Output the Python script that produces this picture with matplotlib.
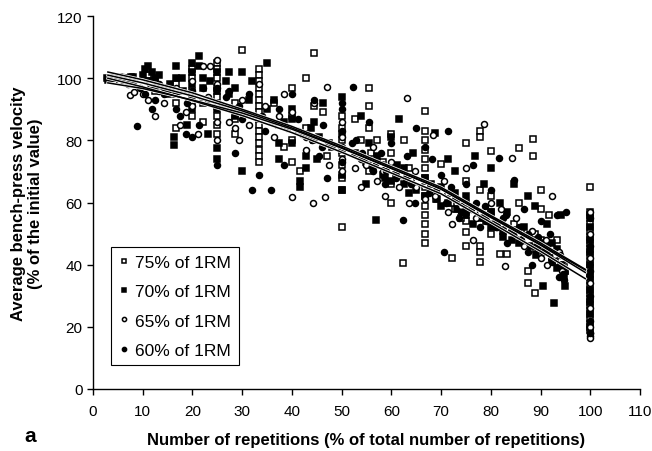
import matplotlib
matplotlib.use('Agg')
import matplotlib.pyplot as plt
import numpy as np

plt.rcParams['font.family'] = ['Liberation Sans', 'DejaVu Sans']

# 75% of 1RM (open squares)
x75 = [3.4, 4.5, 5.9, 7.7, 11.1, 12.5, 12.5, 14.3, 16.7, 16.7, 16.7,
       20, 20, 20, 20, 20, 22.2, 22.2,
       25, 25, 25, 25, 25, 25, 25, 25, 25, 28.6, 28.6, 28.6, 30,
       33.3, 33.3, 33.3, 33.3, 33.3, 33.3, 33.3, 33.3, 33.3, 33.3, 33.3, 33.3, 33.3, 33.3, 33.3, 33.3,
       36.4, 37.5, 38.5, 40, 40, 40, 40, 42.9, 42.9, 41.7, 44.4, 44.4, 44.4, 46.2, 47.1,
       50, 50, 50, 50, 50, 50, 50, 50,
       52.6, 53.8, 55.6, 55.6, 55.6, 55.6, 57.1, 58.3, 60, 60, 60, 60, 62.5, 62.3, 63.6,
       66.7, 66.7, 66.7, 66.7, 66.7, 66.7, 66.7, 66.7, 66.7, 66.7, 66.7, 66.7, 66.7, 66.7,
       70, 71.4, 72.2, 72.7, 75, 75, 75, 75, 75, 75,
       77.8, 77.8, 77.8, 77.8, 77.8, 77.8, 80, 80, 80, 80,
       81.8, 83.3, 84.6, 85.7, 85.7, 87.5, 87.5, 88.5, 88.5, 88.9, 88.9, 90, 90, 90,
       91.7, 92.3, 93.3, 94.7,
       56, 58, 61, 64, 69, 72, 74, 79, 82, 86, 89, 91, 93, 95,
       100, 100, 100, 100, 100, 100, 100, 100, 100, 100, 100, 100, 100, 100, 100, 100, 100, 100, 100, 100, 100]
y75 = [100, 100, 100, 100.5, 101, 99, 96, 97, 84, 92, 98,
       103, 100, 96, 92, 88, 92, 86,
       105, 103, 100, 97, 94, 91, 88, 85, 82, 92, 87, 82, 109,
       103, 101, 99, 97, 95, 93, 91, 89, 87, 85, 83, 81, 79, 77, 75, 73,
       92, 85, 78, 97, 88, 80, 73, 100, 84, 70, 108, 91, 80, 89, 75,
       88, 84, 80, 76, 72, 68, 64, 52,
       87, 80, 97, 91, 84, 70, 80, 73, 82, 76, 66, 60, 80, 40.5, 71,
       89.5, 83, 80, 77, 74, 71, 68, 65, 62, 59, 56, 53, 50, 47,
       72.5, 63, 42, 58, 79, 67, 60, 54, 50.5, 46,
       83, 81, 64, 46, 44, 41, 76.5, 62, 57, 50,
       43.5, 43.5, 53, 77.5, 60, 38, 34, 80.5, 75, 50, 31, 64, 58, 48,
       56, 42, 48, 40,
       76, 72, 69, 67, 61, 60, 55, 54, 53, 51, 45, 45, 41, 38,
       65, 57, 55, 53, 51, 49, 47, 45, 43, 41, 39, 37, 35, 33, 31, 29, 27, 25, 23, 21, 19]

# 70% of 1RM (filled squares)
x70 = [2.9, 3.6, 4.3, 5, 5.6, 6.3, 7.1, 8, 10, 10.5, 11, 11.8, 12.5, 12.5,
       14.3, 15.4, 16.2, 16.2, 16.7, 16.7, 16.7, 18.2, 19, 20, 20, 20, 20, 20,
       21.4, 21.4, 22.2, 23.1, 25, 25, 25, 25, 25, 27.3, 27.3, 28.6, 30, 30,
       35, 35, 36.4, 37.5, 37.5, 40, 40, 41.7, 41.7, 42.9, 42.9, 44.4, 45, 46.2, 47.4,
       50, 50, 50, 50, 50, 52.6, 53.8, 55, 55.6, 57, 57.1, 58.3,
       60, 61.5, 62.5, 63.6, 64.3, 66.7, 68.8, 70, 70, 71.4, 72.7,
       75, 75, 76.9, 77.8, 78.6, 80, 80, 81.8, 82.4, 83.3, 84.6, 85.7,
       87.5, 88.9, 89.5, 90.5, 91.3, 92.3, 92.8, 93.3, 94.1, 94.7, 95,
       55, 56.3, 58.8, 60, 61.1, 62.5, 65, 66.7, 68, 69.2, 71.4, 72.7, 73.3, 75,
       76.5, 78.6, 80, 81.3, 82.4, 84.2, 85, 86.7, 88, 89, 90, 91.3, 92.3, 93.3,
       94.4, 95, 3.1, 4.6, 5.3, 6.7, 7.5, 11, 13.3, 15, 18, 22.2, 23.5, 26.7,
       28.6, 31.3, 32, 38.5, 40, 43.8, 45.5, 48,
       100, 100, 100, 100, 100, 100, 100, 100, 100, 100]
y70 = [100, 100, 100.5, 100, 99.5, 100, 100, 100.5, 101, 103, 104, 102, 100, 97,
       97, 98, 78.5, 81, 104, 100, 95, 96, 85, 105, 102, 98, 94, 90,
       107, 104, 97, 82, 102, 96, 90, 77.5, 74, 102, 95, 88, 102, 70,
       105, 90, 93, 79, 74, 87, 79, 65, 67, 75, 71, 86, 74, 92, 79,
       94, 82, 77, 69, 64, 76, 88, 66, 79, 54.4, 75, 69,
       81, 87, 71, 63, 76, 68, 82.5, 65, 59, 74, 70,
       57, 62, 75, 55, 66, 71, 52, 60, 49, 57, 66, 47,
       62, 59, 45, 33, 53, 47, 27.6, 39, 56, 36, 33,
       73, 71, 68, 67, 72, 66, 64, 62, 66, 61, 60, 63, 58, 56,
       53, 55, 57, 53, 51, 48, 50, 52, 46, 43, 47, 44, 42, 45,
       40, 38, 99.5, 100, 100.5, 99.5, 100, 99, 101, 95, 100, 100, 99, 99,
       97, 93, 99, 86, 90, 84, 81, 78,
       56, 52, 48, 44, 40, 36, 32, 28, 24, 20]

# 65% of 1RM (open circles)
x65 = [4, 5.3, 6.7, 7.5, 8.3, 10, 11.1, 11.5, 12.5, 13.3, 14.3,
       16.7, 17.6, 18.8, 20, 20, 21.1, 22.2, 23.1, 23.5, 25, 25, 25, 25, 25,
       27.3, 28.6, 29.4, 30, 31.3, 33.3, 34.6, 36.4, 37.5, 38.5,
       40, 40, 41.2, 42.9, 44.3, 44.4, 46.6, 47, 47.4,
       50, 50, 50, 50, 50, 52.6, 53.8, 55, 56.3, 57.1, 58.8,
       60, 61.5, 63.1, 63.6, 64.7, 66.7, 68.3,
       70.6, 72.2, 73.3, 75, 76.5, 77.8, 78.7,
       80, 81.3, 82.8, 84.2, 85, 86.7, 88.2, 90, 91.3, 92.3, 93.8, 94.4,
       55.6, 58.3, 62, 65, 68.8, 71.4, 74, 77, 80, 82, 85.7, 88.9, 91, 93,
       100, 100, 100, 100, 100, 100, 100, 100, 100]
y65 = [100, 99, 100, 94.5, 95.5, 95, 93, 98, 88, 96, 92,
       97, 85, 89, 99, 91, 82, 104, 94, 104, 106, 98, 92, 86, 80,
       86, 84, 80, 93, 85, 98, 91, 81, 88, 95,
       89, 61.8, 83, 77, 60, 92, 61.8, 97.3, 72,
       86, 81, 78, 74, 70, 71, 65, 72, 78, 67, 62,
       73, 65, 93.7, 60, 70, 61, 81.7,
       67, 53, 61, 71, 48, 57, 85.4,
       60, 52, 39.6, 74.3, 55, 46, 51, 42, 40, 62, 44, 38,
       74, 70, 69, 65, 62, 57, 59, 55, 55, 58, 50, 47, 48, 43,
       57, 50, 42, 34, 26, 20, 18, 17, 16.5]

# 60% of 1RM (filled circles)
x60 = [3.3, 4.8, 6, 7, 8.9, 9.5, 10.5, 11.8, 12.5, 13.3, 14.3, 15.4, 16.7, 17.6,
       18.8, 19, 20, 20, 21.4, 22.2, 23.1, 25, 25, 26.7, 27.3, 28.6, 29.4, 30, 31.3,
       32, 33.3, 34.6, 35.7, 37.5, 38.5, 40, 41.2, 42.9, 44.4, 45.5, 46.2, 47.1,
       50, 50, 50, 50, 52.3, 52.9, 53.8, 55.6, 56.3, 57.9, 58.8,
       60, 61.1, 62.3, 63.2, 64.7, 65, 66.7, 68.2, 70, 70.5, 71.3, 72.7, 73.7,
       75, 76.5, 77.8, 78.9, 80, 81.6, 82.4, 83.3, 84.7, 85.7, 86.7, 87.5, 88.2,
       89.5, 90, 91.3, 92.3, 93.3, 93.8, 94.7, 95.2,
       52, 54, 57, 59, 61, 63, 64, 67.5, 69, 71, 72, 74, 76, 77, 79, 81, 83, 84,
       86, 87.5, 89, 90.5, 92, 94, 94.5, 2.8, 5.5, 8.3, 26, 29, 34, 36, 39, 42, 44, 46,
       100, 100, 100, 100, 100, 100]
y60 = [100, 100, 100.5, 98, 84.7, 97, 95, 90, 93, 98, 95, 97, 90, 88,
       82, 92, 96, 81, 85, 97, 93, 72, 97, 94, 96, 76, 91, 87, 95,
       64, 69, 83, 64, 90, 72, 95, 87, 81, 93, 75, 85, 68,
       92, 90, 83, 73, 97.3, 80, 74, 86, 70, 76, 66,
       79, 70, 54.4, 75, 60, 84, 78, 74, 69, 44.1, 83, 61, 55,
       66, 72, 52, 59, 64, 74.3, 55, 47, 67.2, 52, 58, 44, 40,
       49, 54, 46, 41, 56, 36, 35, 57,
       79, 76, 73, 70, 68, 68, 66, 63, 64, 60, 65, 57, 58, 60, 54, 52, 56, 51,
       48, 50, 46, 44, 50, 43, 37, 100, 100, 99.5, 91, 90, 88, 86, 84, 82, 80, 78,
       55, 46, 38, 30, 22, 18]

# regression curves
fit_x = [3, 10, 20, 30, 40, 50, 60, 70, 80, 90, 99]
fit75 = [102, 99.5, 95.3, 90, 84.5, 78.2, 71.5, 64.9, 55.8, 47, 38.5]
fit70 = [100, 97.2, 92.8, 88, 82.5, 76.2, 69.5, 62.8, 53.6, 44.3, 35.5]
fit65 = [101, 98.5, 94.3, 89.5, 84, 77.7, 71, 64.3, 55.2, 46.3, 37.5]
fit60 = [98.5, 96.7, 93, 88.8, 83.6, 77.5, 71, 64.4, 55.4, 46.5, 38.3]

fig = plt.figure(figsize=(6.52, 4.52), dpi=100)
ax = fig.add_axes([0.1426, 0.1372, 0.839, 0.825])

ms = 4.3
ax.plot(x75, y75, ls='none', marker='s', ms=ms, mfc='white', mec='black', mew=1.1,
        label='75% of 1RM', zorder=3)
ax.plot(x70, y70, ls='none', marker='s', ms=ms, mfc='black', mec='black', mew=1.1,
        label='70% of 1RM', zorder=3)
ax.plot(x65, y65, ls='none', marker='o', ms=ms, mfc='white', mec='black', mew=1.1,
        label='65% of 1RM', zorder=3)
ax.plot(x60, y60, ls='none', marker='o', ms=ms, mfc='black', mec='black', mew=1.1,
        label='60% of 1RM', zorder=3)

for fy in [fit75, fit70, fit65, fit60]:
    ax.plot(fit_x, fy, color='white', lw=2.2, zorder=4)
    ax.plot(fit_x, fy, color='black', lw=1.1, zorder=5)

ax.set_xlim(0, 110)
ax.set_ylim(0, 120)
ax.set_xticks(np.arange(0, 111, 10))
ax.set_yticks(np.arange(0, 121, 20))
ax.spines['top'].set_visible(False)
ax.spines['right'].set_visible(False)
for s in ['left', 'bottom']:
    ax.spines[s].set_linewidth(1.0)
ax.tick_params(direction='out', length=4, width=1.0, labelsize=11, colors='black')
ax.tick_params(axis='x', pad=7)

ax.set_xlabel('Number of repetitions (% of total number of repetitions)',
              fontsize=12, fontweight='bold', labelpad=10)
ax.set_ylabel('Average bench-press velocity\n(% of the initial value)',
              fontsize=12, fontweight='bold', labelpad=10)
fig.text(0.037, 0.022, 'a', fontsize=15, fontweight='bold')

leg = ax.legend(loc='lower left', bbox_to_anchor=(0.017, 0.04), fontsize=12.5,
                markerscale=0.7, handlelength=0.6, handletextpad=0.35,
                labelspacing=0.8, borderpad=0.45, fancybox=False, framealpha=1)
leg.get_frame().set_edgecolor('black')
leg.get_frame().set_linewidth(0.8)

fig.savefig('out.png', dpi=100)
